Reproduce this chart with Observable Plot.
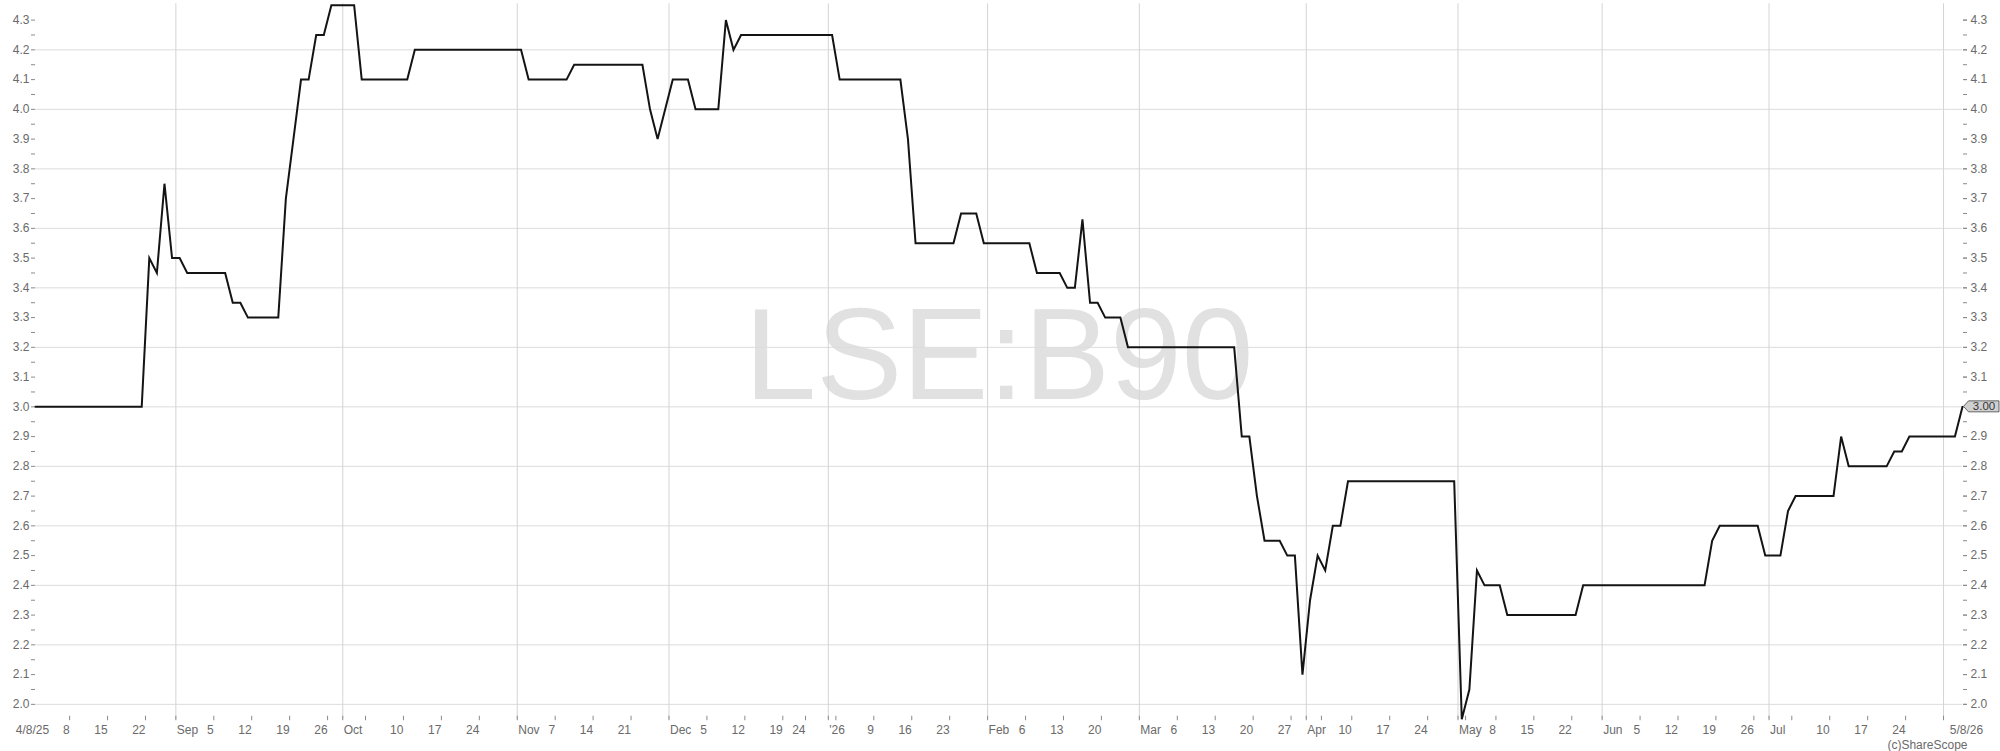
<!DOCTYPE html>
<html><head><meta charset="utf-8">
<script src="https://cdn.jsdelivr.net/npm/d3@7"></script>
<script src="https://cdn.jsdelivr.net/npm/@observablehq/plot@0.6"></script>
<style>html,body{margin:0;padding:0;background:#fff;} svg{display:block}</style>
</head><body><div id="chart"></div>
<script>
// ---- data ----
const startDate = "2025-08-04";
const endDate = "2026-08-05";
const holidays = ["2025-08-25","2025-12-25","2025-12-26","2026-01-01","2026-04-03","2026-04-06","2026-05-04","2026-05-25"];
const priceDates = [
 "2025-08-04","2025-08-22","2025-08-26","2025-08-27","2025-08-28","2025-08-29","2025-09-01","2025-09-02","2025-09-09","2025-09-10",
 "2025-09-11","2025-09-12","2025-09-18","2025-09-19","2025-09-22","2025-09-23","2025-09-24","2025-09-25","2025-09-26","2025-09-29",
 "2025-10-02","2025-10-03","2025-10-13","2025-10-14","2025-11-03","2025-11-04","2025-11-11","2025-11-12","2025-11-25","2025-11-26",
 "2025-11-27","2025-11-28","2025-12-01","2025-12-03","2025-12-04","2025-12-09","2025-12-10","2025-12-11","2025-12-12","2026-01-02",
 "2026-01-05","2026-01-15","2026-01-16","2026-01-19","2026-01-26","2026-01-27","2026-01-29","2026-01-30","2026-02-09","2026-02-10",
 "2026-02-13","2026-02-16","2026-02-17","2026-02-18","2026-02-19","2026-02-20","2026-02-23","2026-02-25","2026-02-26","2026-03-18",
 "2026-03-19","2026-03-20","2026-03-23","2026-03-24","2026-03-26","2026-03-27","2026-03-30","2026-03-31","2026-04-01","2026-04-02",
 "2026-04-07","2026-04-08","2026-04-09","2026-04-10","2026-04-30","2026-05-01","2026-05-05","2026-05-06","2026-05-07","2026-05-11",
 "2026-05-12","2026-05-26","2026-05-27","2026-06-18","2026-06-19","2026-06-22","2026-06-29","2026-06-30","2026-07-02","2026-07-03",
 "2026-07-06","2026-07-13","2026-07-14","2026-07-15","2026-07-22","2026-07-23","2026-07-24","2026-07-27","2026-08-04","2026-08-05"
];
const prices = [
 3.00,3.00,3.50,3.45,3.75,3.50,3.50,3.45,3.45,3.35,
 3.35,3.30,3.30,3.70,3.90,4.10,4.10,4.25,4.25,4.35,
 4.35,4.10,4.10,4.20,4.20,4.10,4.10,4.15,4.15,4.00,
 3.90,4.00,4.10,4.10,4.00,4.00,4.30,4.20,4.25,4.25,
 4.10,4.10,3.90,3.55,3.55,3.65,3.65,3.55,3.55,3.45,
 3.45,3.40,3.40,3.63,3.35,3.35,3.30,3.30,3.20,3.20,
 2.90,2.90,2.70,2.55,2.55,2.50,2.50,2.10,2.35,2.50,
 2.45,2.60,2.60,2.75,2.75,1.95,2.05,2.45,2.40,2.40,
 2.30,2.30,2.40,2.40,2.55,2.60,2.60,2.50,2.50,2.65,
 2.70,2.70,2.90,2.80,2.80,2.85,2.85,2.90,2.90,3.00
];
const yLabelTicks = [2.0,2.1,2.2,2.3,2.4,2.5,2.6,2.7,2.8,2.9,3.0,3.1,3.2,3.3,3.4,3.5,3.6,3.7,3.8,3.9,4.0,4.1,4.2,4.3];
const yMinorTicks = [2.05,2.15,2.25,2.35,2.45,2.55,2.65,2.75,2.85,2.95,3.05,3.15,3.25,3.35,3.45,3.55,3.65,3.75,3.85,3.95,4.05,4.15,4.25];
const yGrid = [2.0,2.2,2.4,2.6,2.8,3.0,3.2,3.4,3.6,3.8,4.0,4.2];
const endLabels = ["4/8/25", "5/8/26"];
const watermark = "LSE:B90";
const credit = "(c)ShareScope";

// ---- trading-day calendar ----
const hol = new Set(holidays);
const days = [];
for (let t = Date.parse(startDate); t <= Date.parse(endDate); t += 864e5) {
  const d = new Date(t), w = d.getUTCDay();
  const s = d.toISOString().slice(0, 10);
  if (w !== 0 && w !== 6 && !hol.has(s)) days.push(d);
}
const idxOf = new Map(days.map((d, i) => [d.toISOString().slice(0, 10), i]));
const series = priceDates.map((s, k) => ({i: idxOf.get(s), v: prices[k]}));
const N = days.length - 1;
const last = series[series.length - 1];

const monthLines = [], weekTicks = [];
for (let i = 0; i < N; i++) {
  const a = days[i], b = days[i + 1];
  if (a.getUTCMonth() !== b.getUTCMonth()) monthLines.push({x: i + 0.5, date: b});
  else if (b.getUTCDay() <= a.getUTCDay()) weekTicks.push({x: i + 0.5, date: a});
}
const monthLabels = monthLines.filter(m => m.x < N - 6).map(m => ({
  x: m.x,
  label: m.date.getUTCMonth() === 0 ? "'" + d3.utcFormat("%y")(m.date) : d3.utcFormat("%b")(m.date)
}));
const weekLabels = weekTicks.filter(w => {
  const prev = monthLines.filter(m => m.x < w.x).pop();
  return !prev || w.x - prev.x > 3;
}).map(w => ({x: w.x, label: String(w.date.getUTCDate())}));
const allTicks = [...monthLines, ...weekTicks];
// right-axis labels: the last-value tag takes the place of the matching label
const yRightLabels = yLabelTicks.filter(v => Math.abs(v - last.v) > 0.06);

const marginTop = 4.725, marginBottom = 32.275;
const frameH = 751 - marginTop - marginBottom;
const textCol = "#6a6a6a", tickCol = "#8a8a8a";

const chart = Plot.plot({
  width: 2000, height: 751,
  marginTop, marginBottom, marginLeft: 35, marginRight: 38,
  x: {domain: [0, N], axis: null},
  y: {domain: [1.95, 4.35], axis: null, label: null},
  style: {fontFamily: "'Liberation Sans', Arial, sans-serif", fontSize: "12px", background: "#fff"},
  marks: [
    Plot.text([watermark], {frameAnchor: "middle", text: d => d, fontSize: 129, fill: "#e1e1e1", dy: -5}),
    Plot.ruleY(yGrid, {stroke: "#dcdcdc", strokeWidth: 1}),
    Plot.ruleX(monthLines, {x: "x", stroke: "#d4d4d4", strokeWidth: 1, insetTop: -1.5}),
    Plot.ruleX(allTicks, {x: "x", stroke: tickCol, insetTop: frameH - 3, insetBottom: -1.5}),
    Plot.axisY(yLabelTicks, {anchor: "left", tickSize: 4, tickPadding: 2, tickFormat: d3.format(".1f"), stroke: tickCol, fill: textCol, fontSize: 12}),
    Plot.axisY(yMinorTicks, {anchor: "left", tickSize: 4, tickFormat: () => "", stroke: tickCol}),
    Plot.axisY(yLabelTicks, {anchor: "right", tickSize: 4, tickFormat: () => "", stroke: tickCol}),
    Plot.axisY(yRightLabels, {anchor: "right", tickSize: 4, tickPadding: 4, tickFormat: d3.format(".1f"), stroke: tickCol, fill: textCol, fontSize: 12}),
    Plot.axisY(yMinorTicks, {anchor: "right", tickSize: 4, tickFormat: () => "", stroke: tickCol}),
    Plot.text(weekLabels, {x: "x", text: "label", frameAnchor: "bottom", lineAnchor: "top", textAnchor: "end", dy: 6, fill: textCol}),
    Plot.text(monthLabels, {x: "x", text: "label", frameAnchor: "bottom", lineAnchor: "top", textAnchor: "start", dx: 1, dy: 6, fill: textCol}),
    Plot.text([{x: 0, label: endLabels[0]}], {x: "x", text: "label", frameAnchor: "bottom", lineAnchor: "top", textAnchor: "middle", dx: -3, dy: 6, fill: textCol}),
    Plot.text([{x: N, label: endLabels[1]}], {x: "x", text: "label", frameAnchor: "bottom", lineAnchor: "top", textAnchor: "middle", dx: 4, dy: 6, fill: textCol}),
    Plot.text([credit], {text: d => d, frameAnchor: "bottom-right", textAnchor: "end", lineAnchor: "top", dx: 5, dy: 21.5, fill: textCol}),
    Plot.line(series, {x: "i", y: "v", stroke: "#141414", strokeWidth: 2, strokeLinejoin: "miter", strokeMiterlimit: 4})
  ]
});
document.getElementById("chart").appendChild(chart);

// last-value tag
const sx = chart.scale("x").apply(last.i), sy = chart.scale("y").apply(last.v);
const g = d3.select(chart).append("g");
g.append("path")
  .attr("d", `M${sx + 1.5},${sy} L${sx + 6.5},${sy - 5.5} H${sx + 37} V${sy + 5.5} H${sx + 6.5} Z`)
  .attr("fill", "#d0d0d0").attr("stroke", "#444").attr("stroke-width", 0.8);
g.append("text").attr("x", sx + 22).attr("y", sy).attr("dy", "0.36em")
  .attr("text-anchor", "middle").attr("font-size", 11.5).attr("fill", "#333")
  .attr("font-family", "'Liberation Sans', Arial, sans-serif")
  .text(d3.format(".2f")(last.v));
</script>
</body></html>
